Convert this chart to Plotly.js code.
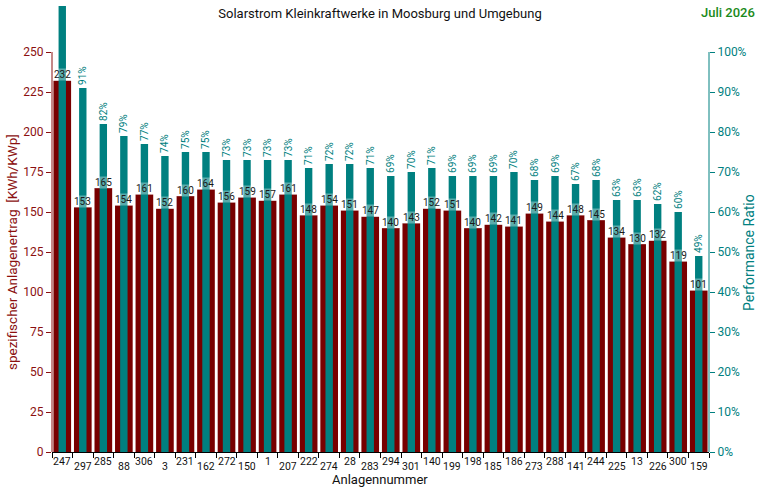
<!DOCTYPE html>
<html>
<head>
<meta charset="utf-8">
<script src="https://cdn.plot.ly/plotly-3.0.1.min.js"></script>
<style>html,body{margin:0;padding:0;background:#fff;}#chart{width:760px;height:504px;}</style>
</head>
<body>
<div id="chart"></div>
<script>
// Data
const anlagen = ['247','297','285','88','306','3','231','162','272','150','1','207','222','274','28','283','294','301','140','199','198','185','186','273','288','141','244','225','13','226','300','159'];
const ertrag = [232,153,165,154,161,152,160,164,156,159,157,161,148,154,151,147,140,143,152,151,140,142,141,149,144,148,145,134,130,132,119,101];
const performanceRatio = [114,91,82,79,77,74,75,75,73,73,73,73,71,72,72,71,69,70,71,69,69,69,70,68,69,67,68,63,63,62,60,49];
const leftTicks = [0,25,50,75,100,125,150,175,200,225,250];
const rightTicks = [0,10,20,30,40,50,60,70,80,90,100];
const rightTickText = rightTicks.map(v => v + '%');
const titleText = 'Solarstrom Kleinkraftwerke in Moosburg und Umgebung';
const periodText = 'Juli 2026';

const RED = '#780000';
const TEAL = '#008080';
const REDTXT = '#8b1010';
const FONT = 'Roboto, sans-serif';
const PR_MAX = 111.5;

const traces = [
  {
    type: 'bar', x: anlagen, y: ertrag, yaxis: 'y',
    marker: {color: RED}, width: 0.86,
    hoverinfo: 'skip', showlegend: false
  },
  {
    type: 'bar', x: anlagen, y: performanceRatio, yaxis: 'y2',
    marker: {color: TEAL}, width: 0.36,
    // labels of bars running past the top of the plot are cut off in the original
    text: performanceRatio.map(v => v < 100 ? v + '%' : ''),
    textposition: 'outside', textangle: -90, constraintext: 'none',
    textfont: {family: FONT, size: 10, color: TEAL},
    cliponaxis: true,
    hoverinfo: 'skip', showlegend: false
  }
];

const annotations = [];
// x tick labels, staggered (category axis: x is the category's serial number)
anlagen.forEach((a, i) => {
  annotations.push({
    x: i, xref: 'x', y: 0, yref: 'paper', yanchor: 'top', xanchor: 'center',
    height: 9, valign: 'middle',
    yshift: i % 2 === 0 ? -4.3 : -9.3, showarrow: false, text: a, borderpad: 0,
    font: {family: FONT, size: 10.5, color: '#111'}
  });
});
// value labels on red bars
ertrag.forEach((v, i) => {
  annotations.push({
    x: i, xref: 'x', y: v, yref: 'y', yanchor: 'bottom', xanchor: 'center',
    yshift: -0.5, showarrow: false, text: String(v), borderpad: 0,
    bgcolor: 'rgba(255,255,255,0.35)',
    font: {family: FONT, size: 10, color: '#1a1a1a'}
  });
});
// axis titles
annotations.push({
  x: -0.0608, xref: 'paper', y: 125, yref: 'y', textangle: -90, showarrow: false,
  xanchor: 'center', yanchor: 'middle',
  text: 'spezifischer Anlagenertrag  [KWh/KWp]',
  font: {family: FONT, size: 13.5, color: REDTXT}
});
annotations.push({
  x: 1.0608, xref: 'paper', y: 50, yref: 'y2', textangle: -90, showarrow: false,
  xanchor: 'center', yanchor: 'middle',
  text: 'Performance Ratio',
  font: {family: FONT, size: 14, color: TEAL}
});
annotations.push({
  x: 0.4985, xref: 'paper', y: -0.0615, yref: 'paper', showarrow: false,
  xanchor: 'center', yanchor: 'middle', borderpad: 0,
  text: 'Anlagennummer',
  font: {family: FONT, size: 13, color: '#111'}
});
annotations.push({
  x: 1.073, xref: 'paper', y: 0.985, yref: 'paper', showarrow: false,
  xanchor: 'right', yanchor: 'middle',
  text: periodText,
  font: {family: FONT, size: 13, color: '#1a8a1a', weight: 500}
});

const layout = {
  width: 760, height: 504,
  margin: {l: 52, r: 51, t: 6, b: 52},
  paper_bgcolor: '#fff', plot_bgcolor: '#fff',
  barmode: 'overlay',
  showlegend: false,
  font: {family: FONT},
  title: {
    text: titleText, xref: 'container', x: 0.5, xanchor: 'center',
    yref: 'container', y: 1 - 13/504, yanchor: 'middle',
    font: {family: FONT, size: 13, color: '#111'}
  },
  xaxis: {
    type: 'category', categoryorder: 'array', categoryarray: anlagen,
    range: [-0.5, anlagen.length - 0.5],
    showline: true, linecolor: '#000', linewidth: 1,
    ticks: 'outside', tickson: 'boundaries', ticklen: 5, tickcolor: '#000', tickwidth: 1,
    showticklabels: false, showgrid: false, zeroline: false, fixedrange: true
  },
  yaxis: {
    range: [0, 278.75],
    tickmode: 'array', tickvals: leftTicks,
    ticks: 'outside', ticklen: 5, tickcolor: REDTXT, tickwidth: 1,
    tickfont: {family: FONT, size: 12, color: REDTXT},
    showline: false, showgrid: false, zeroline: false, fixedrange: true
  },
  yaxis2: {
    overlaying: 'y', side: 'right',
    range: [0, PR_MAX],
    tickmode: 'array', tickvals: rightTicks, ticktext: rightTickText,
    ticks: 'outside', ticklen: 5, tickcolor: TEAL, tickwidth: 1,
    tickfont: {family: FONT, size: 12, color: TEAL},
    showline: false, showgrid: false, zeroline: false, fixedrange: true
  },
  shapes: [
    {type: 'line', xref: 'paper', x0: 0, x1: 0, yref: 'y', y0: 0, y1: 250,
     line: {color: REDTXT, width: 1}},
    {type: 'line', xref: 'paper', x0: 1, x1: 1, yref: 'y2', y0: 0, y1: 100,
     line: {color: TEAL, width: 1}}
  ],
  annotations: annotations
};

Plotly.newPlot('chart', traces, layout, {displayModeBar: false, staticPlot: true});
</script>
</body>
</html>
